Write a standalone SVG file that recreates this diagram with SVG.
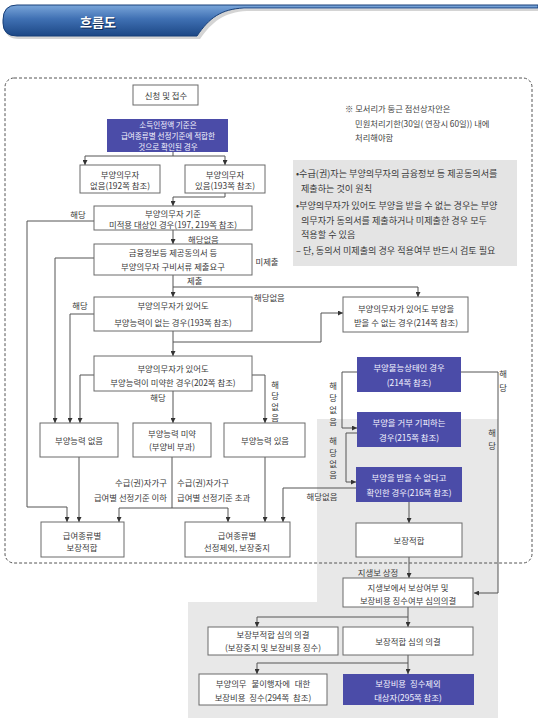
<svg xmlns="http://www.w3.org/2000/svg" width="538" height="721" viewBox="0 0 538 721">
<defs>
<linearGradient id="hg" x1="0" y1="0" x2="0" y2="1">
<stop offset="0" stop-color="#7aa6da"/>
<stop offset="0.45" stop-color="#3f70b3"/>
<stop offset="1" stop-color="#1c4785"/>
</linearGradient>
<marker id="a" viewBox="0 0 6 6" refX="6" refY="3" markerWidth="5" markerHeight="5" orient="auto" markerUnits="userSpaceOnUse">
<path d="M0,0 L6,3 L0,6 z" fill="#333"/>
</marker>
<style>
.b{fill:#fff;stroke:#6a6a6a;stroke-width:1}
.bl{fill:#4b4ca8}
.t{font-family:"Noto Sans CJK KR","Noto Sans",sans-serif;font-size:8.4px;fill:#3a3a3a;text-anchor:middle;dominant-baseline:central}
.w{fill:#f4f4ff}
.sm{font-size:7.6px}
.s{text-anchor:start}
.e{text-anchor:end}
.n{font-family:"Noto Sans CJK KR","Noto Sans",sans-serif;font-size:8.3px;fill:#444;dominant-baseline:central}
.g{font-family:"Noto Sans CJK KR","Noto Sans",sans-serif;font-size:9.1px;fill:#3a3a3a;dominant-baseline:central}
.c{fill:none;stroke:#555;stroke-width:1}
.ca{fill:none;stroke:#555;stroke-width:1;marker-end:url(#a)}
</style>
</defs>
<rect width="538" height="721" fill="#fff"/>

<g id="header">
<path d="M5,23 Q5,9 19,9 H538 V11 H247 C224,12 212,22 200,39 H19 Q5,39 5,27 Z" fill="#b8b8b8" opacity="0.6"/>
<path d="M3,20 Q3,5 17,5 H538 V8 H244 C221,9 209,18 197,36 H17 Q3,36 3,23 Z" fill="url(#hg)" stroke="#163e78" stroke-width="1"/>
<text x="98" y="21" font-family="'Noto Sans CJK KR',sans-serif" font-size="13" font-weight="bold" fill="#0d2a55" text-anchor="middle" dominant-baseline="central" transform="translate(1,1)">흐름도</text>
<text x="98" y="21" font-family="'Noto Sans CJK KR',sans-serif" font-size="13" font-weight="bold" fill="#fff" text-anchor="middle" dominant-baseline="central">흐름도</text>
</g>

<g id="backgrounds">
<path d="M317,419 H498 V718 H188 V602 H317 Z" fill="#e8e8e8"/>
<rect x="293" y="160" width="224" height="106" fill="#e4e4e4"/>
<rect x="5" y="78" width="527" height="485" rx="9" fill="none" stroke="#555" stroke-width="1" stroke-dasharray="3,2"/>
</g>

<g id="note">
<text class="n" x="345" y="108">※ 모서리가 둥근 점선상자안은</text>
<text class="n" x="355" y="123">민원처리기한(30일( 연장시 60일)) 내에</text>
<text class="n" x="355" y="137">처리해야함</text>
<text class="g" x="296" y="173">•수급(권)자는 부양의무자의 금융정보 등 제공동의서를</text>
<text class="g" x="301" y="188">제출하는 것이 원칙</text>
<text class="g" x="296" y="205">•부양의무자가 있어도 부양을 받을 수 없는 경우는 부양</text>
<text class="g" x="301" y="220">의무자가 동의서를 제출하거나 미제출한 경우 모두</text>
<text class="g" x="301" y="234">적용할 수 있음</text>
<text class="g" x="296" y="250">– 단, 동의서 미제출의 경우 적용여부 반드시 검토 필요</text>
</g>

<g id="connectors">
<path class="c" d="M173,152 V156 M85,156 H225"/>
<path class="ca" d="M85,156 V165"/>
<path class="ca" d="M225,156 V165"/>
<path class="ca" d="M225,193 V197 H173 V206"/>
<path class="ca" d="M173,230 V244"/>
<path class="ca" d="M94,221 H27 V507 H67 V522"/>
<path class="ca" d="M94,258 H55 V423"/>
<path class="ca" d="M173,275 V297"/>
<path class="ca" d="M173,287 H418 V297"/>
<path class="ca" d="M94,314 H70 V423"/>
<path class="ca" d="M173,331 V356"/>
<path class="ca" d="M173,342 H321 V313 H343"/>
<path class="ca" d="M94,375 H80 V423"/>
<path class="ca" d="M173,391 V423"/>
<path class="ca" d="M252,375 H265 V423"/>
<path class="ca" d="M79,457 V522"/>
<path class="c" d="M172,457 V508 M119,508 H228"/>
<path class="ca" d="M119,508 V522"/>
<path class="ca" d="M228,508 V522"/>
<path class="ca" d="M265,457 V522"/>
<path class="ca" d="M356,488 H283 V522"/>
<path class="ca" d="M357,372 H342 V428 H357"/>
<path class="ca" d="M357,433 H346 V482 H356"/>
<path class="ca" d="M461,372 H498 V593 H474"/>
<path class="ca" d="M409,502 V523"/>
<path class="ca" d="M409,557 V578"/>
<path class="c" d="M408,607 V617 H257"/>
<path class="ca" d="M257,617 V627"/>
<path class="ca" d="M408,617 V627"/>
<path class="c" d="M408,655 V663 H257"/>
<path class="ca" d="M257,663 V674"/>
<path class="ca" d="M408,663 V674"/>
</g>

<g id="labels">
<text class="t" x="78" y="214">해당</text>
<text class="t s" x="188" y="239">해당없음</text>
<text class="t" x="267" y="261">미제출</text>
<text class="t s" x="187" y="279.5">제출</text>
<text class="t s" x="254" y="297">해당없음</text>
<text class="t" x="80" y="305">해당</text>
<text class="t" x="158" y="397">해당</text>
<text class="t" x="275" y="384">해</text>
<text class="t" x="275" y="395">당</text>
<text class="t" x="275" y="406">없</text>
<text class="t" x="275" y="417">음</text>
<text class="t e" x="167" y="482">수급(권)자가구</text>
<text class="t e" x="167" y="497">급여별 선정기준 이하</text>
<text class="t s" x="177" y="482">수급(권)자가구</text>
<text class="t s" x="177" y="497">급여별 선정기준 초과</text>
<text class="t" x="322" y="496">해당없음</text>
<text class="t" x="333" y="385">해</text>
<text class="t" x="333" y="397">당</text>
<text class="t" x="333" y="409">없</text>
<text class="t" x="333" y="421">음</text>
<text class="t" x="333" y="440">해</text>
<text class="t" x="333" y="452">당</text>
<text class="t" x="333" y="463">없</text>
<text class="t" x="333" y="474">음</text>
<text class="t" x="503" y="373">해</text>
<text class="t" x="503" y="387">당</text>
<text class="t" x="492" y="432">해</text>
<text class="t" x="492" y="445">당</text>
<text class="t" x="378" y="572">지생보 상정</text>
</g>

<g id="n1"><rect class="b" x="133" y="85" width="65" height="20"/><text class="t" x="166" y="95">신청 및 접수</text></g>
<g id="n2"><rect class="bl" x="107" y="119" width="121" height="33"/><text class="t w sm" x="168" y="124.5">소득인정액 기준은</text><text class="t w sm" x="168" y="135.5">급여종류별 선정기준에 적합한</text><text class="t w sm" x="168" y="146.5">것으로 확인된 경우</text></g>
<g id="n3"><rect class="b" x="80" y="165" width="80" height="28"/><text class="t" x="120" y="173.5">부양의무자</text><text class="t" x="120" y="185">없음(192쪽 참조)</text></g>
<g id="n4"><rect class="b" x="185" y="165" width="80" height="28"/><text class="t" x="225" y="173.5">부양의무자</text><text class="t" x="225" y="185">있음(193쪽 참조)</text></g>
<g id="n5"><rect class="b" x="94" y="206" width="158" height="24"/><text class="t" x="173" y="213">부양의무자 기준</text><text class="t" x="173" y="224">미적용 대상인 경우(197, 219쪽 참조)</text></g>
<g id="n6"><rect class="b" x="94" y="244" width="158" height="31"/><text class="t" x="173" y="252">금융정보등 제공동의서 등</text><text class="t" x="173" y="266">부양의무자 구비서류 제출요구</text></g>
<g id="n7"><rect class="b" x="94" y="297" width="158" height="34"/><text class="t" x="173" y="305">부양의무자가 있어도</text><text class="t" x="173" y="322">부양능력이 없는 경우(193쪽 참조)</text></g>
<g id="n8"><rect class="b" x="94" y="356" width="158" height="35"/><text class="t" x="173" y="368">부양의무자가 있어도</text><text class="t" x="173" y="382">부양능력이 미약한 경우(202쪽 참조)</text></g>
<g id="n9"><rect class="b" x="343" y="297" width="125" height="35"/><text class="t" x="406" y="308">부양의무자가 있어도 부양을</text><text class="t" x="406" y="322">받을 수 없는 경우(214쪽 참조)</text></g>
<g id="n10"><rect class="bl" x="357" y="357" width="104" height="35"/><text class="t w" x="409" y="367">부양불능상태인 경우</text><text class="t w" x="409" y="382">(214쪽 참조)</text></g>
<g id="n11"><rect class="bl" x="357" y="412" width="104" height="35"/><text class="t w" x="409" y="422">부양을 거부 기피하는</text><text class="t w" x="409" y="437">경우(215쪽 참조)</text></g>
<g id="n12"><rect class="bl" x="356" y="467" width="106" height="35"/><text class="t w" x="409" y="477">부양을 받을 수 없다고</text><text class="t w" x="409" y="492">확인한 경우(216쪽 참조)</text></g>
<g id="n13"><rect class="b" x="356" y="523" width="106" height="34"/><text class="t" x="409" y="540">보장적합</text></g>
<g id="n14"><rect class="b" x="40" y="423" width="78" height="34"/><text class="t" x="79" y="440">부양능력 없음</text></g>
<g id="n15"><rect class="b" x="133" y="423" width="78" height="34"/><text class="t" x="172" y="433">부양능력 미약</text><text class="t" x="172" y="446">(부양비 부과)</text></g>
<g id="n16"><rect class="b" x="224" y="423" width="81" height="34"/><text class="t" x="265" y="440">부양능력 있음</text></g>
<g id="n17"><rect class="b" x="41" y="522" width="83" height="35"/><text class="t" x="82" y="535">급여종류별</text><text class="t" x="82" y="547">보장적합</text></g>
<g id="n18"><rect class="b" x="185" y="522" width="105" height="35"/><text class="t" x="237" y="535">급여종류별</text><text class="t" x="237" y="547">선정제외, 보장중지</text></g>
<g id="n19"><rect class="b" x="343" y="578" width="130" height="29"/><text class="t" x="408" y="587">지생보에서 보상여부 및</text><text class="t" x="408" y="600">보장비용 징수여부 심의의결</text></g>
<g id="n20"><rect class="b" x="208" y="627" width="130" height="28"/><text class="t" x="273" y="634">보장부적합 심의 의결</text><text class="t" x="273" y="647">(보장중지 및 보장비용 징수)</text></g>
<g id="n21"><rect class="b" x="343" y="627" width="130" height="28"/><text class="t" x="408" y="641">보장적합 심의 의결</text></g>
<g id="n22"><rect class="b" x="199" y="674" width="128" height="31"/><text class="t" x="263" y="683" word-spacing="3">부양의무 불이행자에 대한</text><text class="t" x="263" y="697" word-spacing="2">보장비용 징수(294쪽 참조)</text></g>
<g id="n23"><rect class="bl" x="343" y="674" width="131" height="31"/><text class="t w" x="408" y="683" word-spacing="2">보장비용 징수제외</text><text class="t w" x="408" y="697">대상자(295쪽 참조)</text></g>
</svg>
